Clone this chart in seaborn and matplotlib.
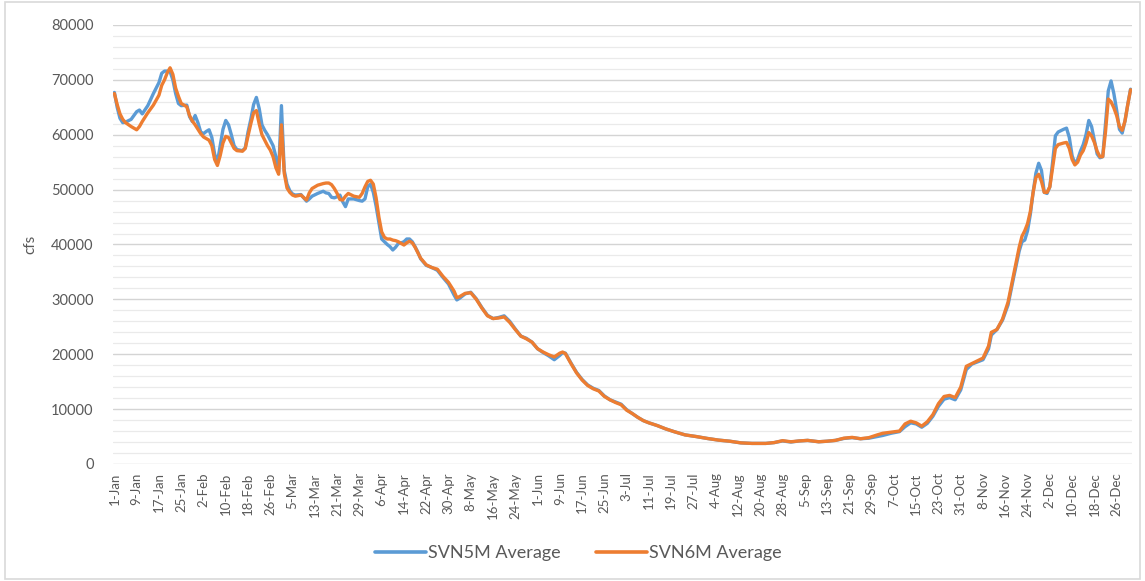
import numpy as np
import pandas as pd
import matplotlib
matplotlib.use("Agg")
import matplotlib.pyplot as plt
import seaborn as sns
from matplotlib.ticker import MultipleLocator
from matplotlib.lines import Line2D

# ---- data (day-of-year index in a leap year, 0 = 1-Jan) ----
days = [0, 1, 2, 3, 4, 6, 8, 9, 10, 12, 14, 16, 17, 18, 19, 20, 21, 22, 23, 24, 26, 27, 28, 29,
        30, 31, 32, 33, 34, 35, 36, 37, 38, 39, 40, 41, 42, 43, 44, 46, 47, 48, 49, 50, 51, 52,
        53, 54, 55, 56, 57, 58, 59, 60, 61, 62, 63, 64, 65, 67, 69, 70, 71, 73, 75, 76, 77, 78,
        79, 80, 81, 82, 83, 84, 86, 88, 89, 90, 91, 92, 93, 94, 95, 96, 97, 98, 99, 100, 101,
        102, 103, 104, 105, 106, 107, 108, 109, 110, 112, 114, 116, 118, 120, 122, 123, 124,
        126, 128, 130, 132, 134, 136, 138, 140, 142, 144, 146, 148, 150, 152, 154, 156, 158,
        160, 161, 162, 164, 166, 168, 170, 172, 174, 176, 178, 180, 182, 184, 186, 188, 190,
        192, 195, 198, 201, 205, 209, 213, 217, 221, 225, 229, 234, 237, 240, 243, 246, 249,
        253, 256, 259, 262, 265, 268, 271, 274, 276, 279, 282, 284, 286, 288, 290, 292, 294,
        296, 298, 300, 302, 304, 306, 308, 310, 312, 314, 315, 317, 319, 321, 323, 325, 326,
        327, 328, 329, 330, 331, 332, 333, 334, 335, 336, 337, 338, 339, 341, 342, 343, 344,
        345, 346, 347, 348, 349, 350, 351, 352, 353, 354, 355, 356, 357, 358, 359, 360, 361,
        362, 363, 364, 365]

svn6m = [67500, 65500, 63800, 62800, 62200, 61500, 60900, 61500, 62400, 64000, 65400, 67200,
         69000, 70000, 71300, 72200, 71000, 68500, 67000, 65700, 65100, 63500, 62500, 61800,
         61000, 60200, 59600, 59300, 59000, 58000, 55500, 54400, 56200, 58500, 59700, 59500,
         58500, 57500, 57100, 57000, 57500, 59800, 62000, 64000, 64400, 62000, 60000, 59000,
         58000, 57200, 56000, 54000, 52800, 61800, 53000, 50300, 49500, 49000, 48800, 49000,
         48100, 49400, 50200, 50800, 51100, 51200, 51200, 50900, 50200, 49300, 48200, 48100,
         48800, 49300, 48800, 48600, 49300, 50500, 51500, 51700, 51000, 48500, 45000, 42300,
         41300, 41000, 41000, 40800, 40700, 40500, 40200, 39900, 40300, 40600, 40300, 39500,
         38500, 37500, 36300, 35800, 35500, 34200, 33100, 31500, 30300, 30500, 31100, 31200,
         30000, 28400, 27000, 26500, 26600, 26800, 25800, 24500, 23300, 22800, 22200, 21000,
         20400, 19900, 19500, 20200, 20400, 20100, 18300, 16600, 15300, 14300, 13700, 13300,
         12300, 11700, 11200, 10800, 9800, 9200, 8500, 7900, 7500, 7000, 6400, 5900, 5300,
         5000, 4650, 4350, 4150, 3850, 3750, 3750, 3900, 4250, 4050, 4200, 4300, 4050, 4150,
         4300, 4700, 4850, 4600, 4800, 5300, 5600, 5800, 6000, 7300, 7800, 7500, 6900, 7700,
         9000, 11000, 12300, 12500, 12100, 14000, 17800, 18300, 18800, 19300, 21500, 24000,
         24500, 26400, 29500, 34500, 39500, 41500, 42500, 43800, 46000, 49500, 52200, 52800,
         51500, 49500, 49500, 50500, 54000, 57500, 58200, 58500, 58600, 57500, 55500, 54500,
         55000, 56300, 57100, 58500, 60400, 59800, 58600, 57000, 56000, 56000, 60500, 66500,
         66000, 64900, 63500, 61500, 60800, 62500, 65500, 68200]

svn5m = [67700, 65000, 63000, 62200, 62300, 62800, 64200, 64500, 63800, 65300, 67500, 69500,
         71200, 71600, 71600, 71500, 70000, 67500, 65700, 65300, 65400, 63300, 62400, 63500,
         62200, 60500, 60200, 60600, 60900, 59500, 56500, 55000, 58000, 61000, 62600, 61800,
         60000, 58000, 57300, 57100, 57600, 60500, 62800, 65500, 66800, 64800, 61800, 60800,
         60000, 59000, 58000, 56000, 53200, 65300, 53500, 51000, 49800, 49200, 49000, 49100,
         47900, 48300, 48800, 49300, 49700, 49400, 49300, 48600, 48500, 48700, 49000, 47800,
         46900, 48300, 48300, 48000, 47900, 48300, 50500, 51000, 49500, 47000, 44000, 41000,
         40500, 40000, 39600, 39000, 39500, 40200, 40300, 40500, 41000, 41000, 40500, 39600,
         38600, 37400, 36200, 35800, 35300, 34000, 32800, 30800, 29900, 30200, 31000, 31300,
         30100, 28500, 27100, 26500, 26700, 27000, 26000, 24600, 23300, 22900, 22200, 21000,
         20300, 19700, 19000, 19800, 20300, 20200, 18400, 16700, 15400, 14400, 13800, 13400,
         12400, 11700, 11300, 10900, 9900, 9200, 8500, 7900, 7500, 7000, 6400, 5900, 5300,
         5000, 4650, 4350, 4150, 3850, 3750, 3750, 3900, 4200, 4000, 4200, 4300, 4050, 4150,
         4300, 4650, 4800, 4600, 4700, 5000, 5200, 5600, 5900, 6800, 7500, 7300, 6700, 7400,
         8700, 10500, 11800, 12100, 11700, 13500, 17200, 18200, 18600, 19000, 21000, 23500,
         24500, 26200, 29000, 34000, 38800, 40500, 40800, 42500, 45500, 49500, 53000, 54800,
         53500, 49500, 49300, 50500, 55000, 59800, 60500, 61000, 61200, 59500, 56200, 54700,
         55500, 57000, 58200, 60000, 62600, 61500, 59000, 56500, 55800, 56000, 62000, 68000,
         69800, 67500, 64500, 61000, 60300, 62500, 65500, 68300]

tick_labels = ["1-Jan", "9-Jan", "17-Jan", "25-Jan", "2-Feb", "10-Feb", "18-Feb", "26-Feb",
               "5-Mar", "13-Mar", "21-Mar", "29-Mar", "6-Apr", "14-Apr", "22-Apr", "30-Apr",
               "8-May", "16-May", "24-May", "1-Jun", "9-Jun", "17-Jun", "25-Jun", "3-Jul",
               "11-Jul", "19-Jul", "27-Jul", "4-Aug", "12-Aug", "20-Aug", "28-Aug", "5-Sep",
               "13-Sep", "21-Sep", "29-Sep", "7-Oct", "15-Oct", "23-Oct", "31-Oct", "8-Nov",
               "16-Nov", "24-Nov", "2-Dec", "10-Dec", "18-Dec", "26-Dec"]
series_names = ["SVN5M Average", "SVN6M Average"]
colors = ["#5B9BD5", "#ED7D31"]

# ---- build long table ----
df = pd.DataFrame({
    "day": days * 2,
    "cfs": svn5m + svn6m,
    "series": [series_names[0]] * len(days) + [series_names[1]] * len(days),
})

sns.set_style("white")
plt.rcParams["font.family"] = ["Lato", "DejaVu Sans"]

fig = plt.figure(figsize=(11.45, 5.81), dpi=100)
ax = fig.add_axes([0.0987, 0.2014, 0.8899, 0.7556])

sns.lineplot(data=df, x="day", y="cfs", hue="series", palette=colors,
             hue_order=series_names, linewidth=2.4, ax=ax, legend=False,
             estimator=None, sort=False)

ax.set_xlim(-0.5, 365.5)
ax.set_ylim(0, 80000)
ax.yaxis.set_major_locator(MultipleLocator(10000))
ax.yaxis.set_minor_locator(MultipleLocator(2000))
ax.grid(which="major", axis="y", color="#D4D4D4", linewidth=1.0)
ax.grid(which="minor", axis="y", color="#EAEAEA", linewidth=0.9)
ax.grid(False, axis="x")
ax.set_axisbelow(True)
for s in ax.spines.values():
    s.set_visible(False)

ax.set_xticks(np.arange(0, 361, 8))
ax.set_xticklabels(tick_labels, rotation=90, fontsize=9.5, color="#595959")
ax.tick_params(axis="both", which="both", length=0)
ax.tick_params(axis="x", pad=6)
ax.tick_params(axis="y", labelsize=10.5, labelcolor="#595959", pad=14)
ax.set_yticklabels([f"{int(v)}" for v in ax.get_yticks()])
ax.set_xlabel("")
ax.set_ylabel("cfs", fontsize=11, color="#595959", labelpad=10)

handles = [Line2D([0], [0], color=c, lw=2.6) for c in colors]
fig.legend(handles, series_names, loc="center", bbox_to_anchor=(0.505, 0.048), ncol=2,
           frameon=False, fontsize=13, handlelength=2.8, handletextpad=0.1,
           columnspacing=2.0, labelcolor="#595959")

# chart area border
fig.patches.append(plt.Rectangle((0.004, 0.004), 0.992, 0.992, transform=fig.transFigure,
                                 fill=False, edgecolor="#D9D9D9", linewidth=1.2))

fig.savefig("out.png", dpi=100, facecolor="white")
